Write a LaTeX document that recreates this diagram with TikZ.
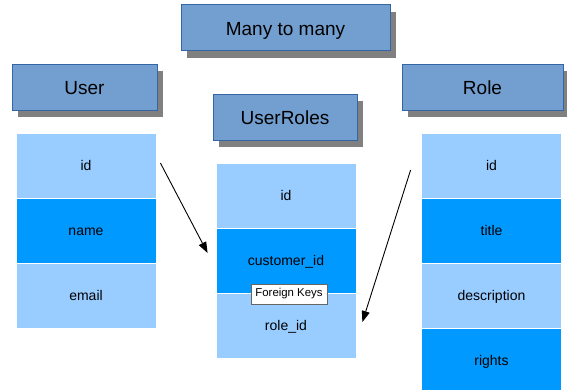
\documentclass[tikz,border=0pt]{standalone}
\usepackage{fontspec}
\setmainfont{Liberation Sans}
\usetikzlibrary{arrows.meta,shadows}

\definecolor{hdrfill}{HTML}{729FCF}
\definecolor{hdrline}{HTML}{3465A4}
\definecolor{rowlight}{HTML}{99CCFF}
\definecolor{rowdark}{HTML}{0099FF}
\definecolor{shade}{HTML}{808080}

\tikzset{
  header/.style={draw=hdrline, fill=hdrfill, line width=0.8pt, inner sep=0pt,
    minimum height=46pt, text height=15.6pt, text depth=0pt,
    font=\fontsize{19}{22}\selectfont,
    drop shadow={shadow xshift=6pt, shadow yshift=-7pt, fill=shade, opacity=1}},
  cell/.style={draw=white, line width=0.8pt, inner sep=0pt,
    minimum width=140pt, minimum height=65pt, text height=10.2pt, text depth=0pt,
    font=\fontsize{14}{16}\selectfont},
  light/.style={cell, fill=rowlight},
  dark/.style={cell, fill=rowdark},
  fk/.style={draw=black!60, fill=white, line width=0.6pt, inner sep=0pt,
    minimum width=76pt, minimum height=20pt, font=\fontsize{11.4}{13}\selectfont},
  link/.style={line width=0.9pt, -{Triangle[length=11pt,width=8pt]}}
}

\begin{document}
\begin{tikzpicture}[x=1pt,y=-1pt]
  \fill[white] (0,0) rectangle (567,389);
  \useasboundingbox (0,0) rectangle (567,389);
  \clip (0,0) rectangle (567,389);

  % headers
  \node[header, minimum width=209pt] (title) at (285.5,27.5) {Many to many};
  \node[header, minimum width=145pt] (userh) at (84.5,87) {User};
  \node[header, minimum width=144pt] (urh) at (285,117) {UserRoles};
  \node[header, minimum width=161pt] (roleh) at (482.5,87) {Role};

  % User table
  \node[light] (uid)   at (86,165.5) {id};
  \node[dark]  (uname) at (86,230.5) {name};
  \node[light] (umail) at (86,295.5) {email};

  % UserRoles table
  \node[light] (urid)  at (286,195.5) {id};
  \node[dark]  (urcid) at (286,260.5) {customer\_id};
  \node[light] (urrid) at (286,325.5) {role\_id};

  % Role table
  \node[light] (rid)    at (491.5,165.5) {id};
  \node[dark]  (rtitle) at (491.5,230.5) {title};
  \node[light] (rdesc)  at (491.5,295.5) {description};
  \node[dark]  (rright) at (491.5,360.5) {rights};

  % label on the foreign key rows
  \node[fk] (fkey) at (289,294) {Foreign Keys};

  % reference arrows
  \path (uid.east) ++(4,-2.5) coordinate (a1s);
  \path (urcid.west) ++(-8,-7.5) coordinate (a1e);
  \path (rid.west) ++(-10.5,4.5) coordinate (a2s);
  \path (urrid.east) ++(6,-3.5) coordinate (a2e);
  \draw[link] (a1s) -- (a1e);
  \draw[link] (a2s) -- (a2e);
\end{tikzpicture}
\end{document}
